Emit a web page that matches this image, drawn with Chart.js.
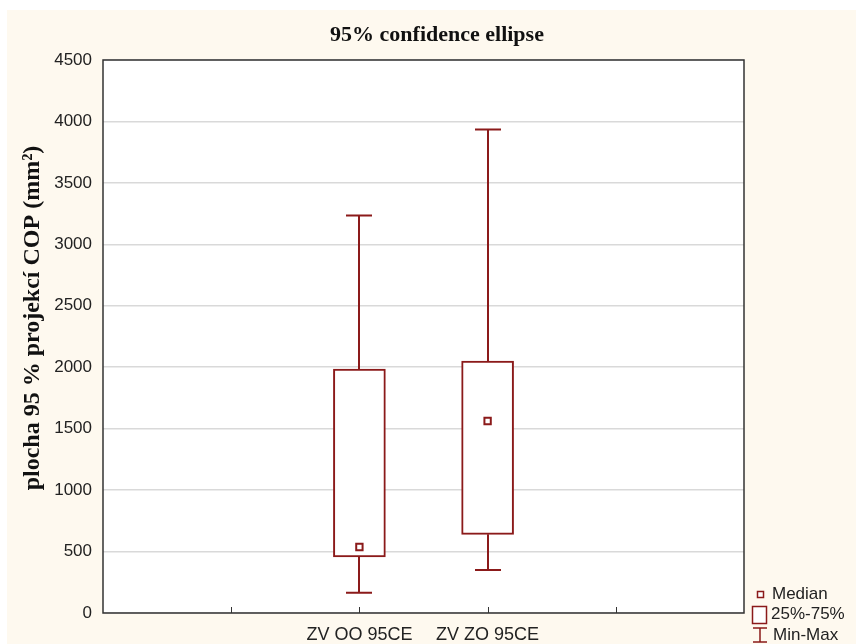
<!DOCTYPE html>
<html>
<head>
<meta charset="utf-8">
<script src="https://cdn.jsdelivr.net/npm/chart.js@4"></script>
<style>
  html, body { margin: 0; padding: 0; background: #fff; }
  #wrap { width: 856px; height: 644px; }
</style>
</head>
<body>
<div id="wrap"><canvas id="myChart" width="856" height="644"></canvas></div>
<script>
// categories (empty slots keep the group spacing of the original plot)
var labels = ['', '', 'ZV OO 95CE', 'ZV ZO 95CE', '', ''];
var minVals    = [null, null, 165, 350, null, null];
var q1Vals     = [null, null, 456, 640, null, null];
var medianVals = [null, null, 537, 1562, null, null];
var q3Vals     = [null, null, 1985, 2050, null, null];
var maxVals    = [null, null, 3235, 3935, null, null];
var yTicks = [0, 500, 1000, 1500, 2000, 2500, 3000, 3500, 4000, 4500];

var red = '#8b1a1a';
var textCol = '#222';

var boxes = labels.map(function (l, i) {
    return q1Vals[i] == null ? null : [q1Vals[i], q3Vals[i]];
});

// whiskers, frame, titles, legend
var extras = {
    id: 'extras',
    beforeDraw: function (chart) {
        var ctx = chart.ctx, a = chart.chartArea;
        ctx.save();
        ctx.fillStyle = '#fef9ef';
        ctx.fillRect(7, 10, chart.width - 7, chart.height - 10);
        ctx.fillStyle = '#fff';
        ctx.fillRect(a.left, a.top, a.right - a.left, a.bottom - a.top);
        ctx.restore();
    },
    afterDatasetsDraw: function (chart) {
        var ctx = chart.ctx, x = chart.scales.x, y = chart.scales.y;
        ctx.save();
        ctx.strokeStyle = red;
        ctx.lineWidth = 2;
        for (var i = 0; i < labels.length; i++) {
            if (minVals[i] == null) continue;
            var px = Math.round(x.getPixelForValue(i));
            var yMin = y.getPixelForValue(minVals[i]);
            var yQ1 = y.getPixelForValue(q1Vals[i]);
            var yQ3 = y.getPixelForValue(q3Vals[i]);
            var yMax = y.getPixelForValue(maxVals[i]);
            ctx.beginPath();
            ctx.moveTo(px, yMin); ctx.lineTo(px, yQ1);
            ctx.moveTo(px, yQ3); ctx.lineTo(px, yMax);
            ctx.moveTo(px - 13, yMin); ctx.lineTo(px + 13, yMin);
            ctx.moveTo(px - 13, yMax); ctx.lineTo(px + 13, yMax);
            ctx.stroke();
        }
        ctx.restore();
    },
    afterDraw: function (chart) {
        var ctx = chart.ctx, a = chart.chartArea, x = chart.scales.x;
        ctx.save();
        // frame
        ctx.strokeStyle = '#333';
        ctx.lineWidth = 1.5;
        ctx.strokeRect(a.left, a.top, a.right - a.left, a.bottom - a.top);
        // inward tick marks on x axis
        ctx.lineWidth = 1;
        ctx.beginPath();
        for (var i = 1; i < labels.length - 1; i++) {
            var px = Math.round(x.getPixelForValue(i)) + 0.5;
            ctx.moveTo(px, a.bottom);
            ctx.lineTo(px, a.bottom - 6);
        }
        ctx.stroke();
        // title
        ctx.fillStyle = '#111';
        ctx.font = 'bold 22px "Liberation Serif", "Times New Roman", serif';
        ctx.textAlign = 'center';
        ctx.textBaseline = 'middle';
        ctx.fillText('95% confidence ellipse', 437, 35);
        // y axis title
        ctx.save();
        ctx.translate(33, 318);
        ctx.rotate(-Math.PI / 2);
        ctx.font = 'bold 24px "Liberation Serif", "Times New Roman", serif';
        ctx.fillText('plocha 95 % projekcí COP (mm²)', 0, 0);
        ctx.restore();
        // legend
        ctx.strokeStyle = red;
        ctx.lineWidth = 1.5;
        ctx.fillStyle = '#fff';
        ctx.fillRect(757, 591, 6, 6);
        ctx.strokeRect(757.5, 591.5, 6, 6);
        ctx.fillRect(752, 606, 14, 17);
        ctx.strokeRect(752.5, 606.5, 14, 17);
        ctx.beginPath();
        ctx.moveTo(753, 628); ctx.lineTo(767, 628);
        ctx.moveTo(760, 628); ctx.lineTo(760, 642);
        ctx.moveTo(753, 642); ctx.lineTo(767, 642);
        ctx.stroke();
        ctx.fillStyle = textCol;
        ctx.font = '17px "Liberation Sans", Arial, sans-serif';
        ctx.textAlign = 'left';
        ctx.textBaseline = 'middle';
        ctx.fillText('Median', 772, 594);
        ctx.fillText('25%-75%', 771, 614);
        ctx.fillText('Min-Max', 773, 635);
        ctx.restore();
    }
};

var ctx = document.getElementById('myChart').getContext('2d');
var myChart = new Chart(ctx, {
    type: 'bar',
    data: {
        labels: labels,
        datasets: [{
            label: '25%-75%',
            data: boxes,
            backgroundColor: '#fff',
            borderColor: red,
            borderWidth: 2,
            borderSkipped: false,
            barThickness: 52,
            order: 2
        }, {
            type: 'line',
            label: 'Median',
            data: medianVals,
            showLine: false,
            pointStyle: 'rect',
            pointRadius: 4.5,
            pointBackgroundColor: '#fff',
            pointBorderColor: red,
            pointBorderWidth: 2,
            order: 1
        }]
    },
    options: {
        responsive: false,
        animation: false,
        layout: { padding: { top: 60, left: 0, right: 112, bottom: 0 } },
        plugins: {
            legend: { display: false },
            tooltip: { enabled: false },
            title: { display: false }
        },
        scales: {
            x: {
                offset: false,
                grid: { display: false },
                border: { display: false },
                ticks: {
                    color: textCol,
                    padding: 3,
                    maxRotation: 0,
                    autoSkip: false,
                    font: { family: '"Liberation Sans", Arial, sans-serif', size: 18 }
                },
                afterFit: function (scale) { scale.height = 31; }
            },
            y: {
                min: 0,
                max: 4500,
                afterBuildTicks: function (scale) {
                    scale.ticks = yTicks.map(function (v) { return { value: v }; });
                },
                grid: { color: '#d9d9d9', lineWidth: 1.5, drawTicks: false },
                border: { display: false },
                ticks: {
                    color: textCol,
                    padding: 11,
                    callback: function (v) { return String(v); },
                    font: { family: '"Liberation Sans", Arial, sans-serif', size: 17 }
                },
                afterFit: function (scale) { scale.width = 103; }
            }
        }
    },
    plugins: [extras]
});
</script>
</body>
</html>
